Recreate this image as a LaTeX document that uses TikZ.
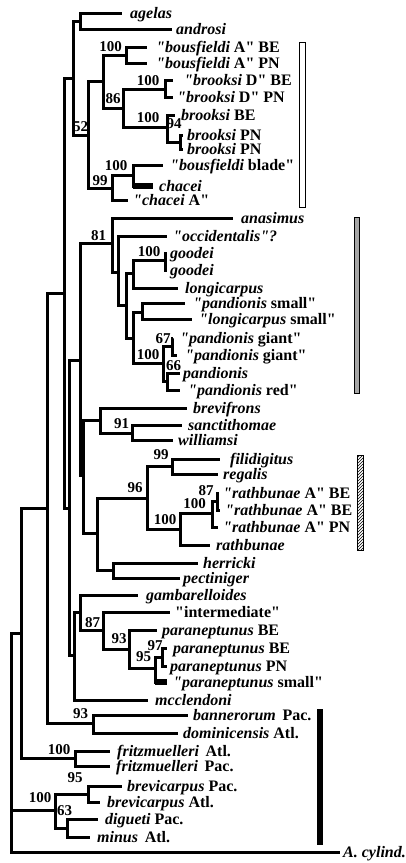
\documentclass[tikz,border=0pt]{standalone}
\usepackage{fontspec}
\setmainfont{Liberation Serif}[Ligatures=TeXOff]
\usetikzlibrary{positioning, patterns}

\begin{document}
\begin{tikzpicture}[x=1pt, y=-1pt,
    branch/.style={line width=3pt},
    fatbranch/.style={line width=6pt},
    taxon/.style={anchor=west, inner sep=0pt, text height=11pt, text depth=1pt, font=\fontsize{16}{18}\selectfont\bfseries},
    boot/.style={inner sep=0pt, font=\fontsize{15}{17}\selectfont\bfseries},
    rangebar/.style={draw=black, line width=1pt},
]
  \useasboundingbox (0,0) rectangle (405,863);

  % internal nodes (upper clade)
  \coordinate (nAG) at (80,21);
  \coordinate (n73) at (73,78);
  \coordinate (n52) at (88,135);
  \coordinate (n103) at (103,81);
  \coordinate (nBA) at (126,55);
  \coordinate (n86) at (123,108);
  \coordinate (nBD) at (165,89);
  \coordinate (nBR) at (167,127);
  \coordinate (n94) at (180,142);
  \coordinate (n99) at (112,188);
  \coordinate (nBB) at (133,175);
  % internal nodes (backbone)
  \coordinate (root) at (11,742);
  \coordinate (n21) at (21,633);
  \coordinate (n47) at (47,508);
  \coordinate (n64) at (64,293);
  \coordinate (n69) at (69,508);
  % internal nodes (middle clade)
  \coordinate (nA80) at (80,360);
  \coordinate (n81) at (112,243);
  \coordinate (n118) at (118,272);
  \coordinate (n126) at (126,305);
  \coordinate (n133a) at (133,273);
  \coordinate (n133b) at (133,338);
  \coordinate (nGO) at (165,260);
  \coordinate (nPS) at (142,312);
  \coordinate (nPG) at (163,363);
  \coordinate (n67) at (172,346);
  \coordinate (n66) at (167,381);
  \coordinate (nB83) at (83,475);
  \coordinate (nBF) at (100,420);
  \coordinate (n91) at (132,433);
  \coordinate (n97) at (97,533);
  \coordinate (n96) at (147,498);
  \coordinate (n99b) at (172,466);
  \coordinate (n100r) at (180,529);
  \coordinate (n100ra) at (212,513);
  \coordinate (n87r) at (217,501);
  \coordinate (nHP) at (113,570);
  \coordinate (n74) at (74,655);
  \coordinate (nGA) at (80,612);
  \coordinate (n87) at (103,630);
  \coordinate (n93) at (129,649);
  \coordinate (n95) at (155,668);
  \coordinate (n97p) at (162,657);
  % internal nodes (lower clade)
  \coordinate (nBN) at (93,723);
  \coordinate (nFR) at (75,758);
  \coordinate (n55) at (55,810);
  \coordinate (n95b) at (88,794);
  \coordinate (n63) at (67,828);

  % branch tips
  \coordinate (t-agelas) at (122,13);
  \coordinate (t-androsi) at (172,29);
  \coordinate (t-bousBE) at (147,47);
  \coordinate (t-bousPN) at (147,63);
  \coordinate (t-brDBE) at (173,80);
  \coordinate (t-brDPN) at (173,97);
  \coordinate (t-brBE) at (175,115);
  \coordinate (t-brPN1) at (183,135);
  \coordinate (t-brPN2) at (183,149);
  \coordinate (t-blade) at (163,165);
  \coordinate (t-chacei) at (153,186);
  \coordinate (t-chaceiA) at (128,200);
  \coordinate (t-anas) at (233,218);
  \coordinate (t-occ) at (167,236);
  \coordinate (t-good1) at (167,253);
  \coordinate (t-good2) at (167,270);
  \coordinate (t-longi) at (178,288);
  \coordinate (t-pansm) at (185,303);
  \coordinate (t-longsm) at (192,319);
  \coordinate (t-pg1) at (173,338);
  \coordinate (t-pg2) at (177,355);
  \coordinate (t-pan) at (180,373);
  \coordinate (t-panred) at (180,390);
  \coordinate (t-brevif) at (187,408);
  \coordinate (t-sancti) at (182,425);
  \coordinate (t-will) at (173,440);
  \coordinate (t-fili) at (220,459);
  \coordinate (t-reg) at (218,474);
  \coordinate (t-rathBE1) at (219,493);
  \coordinate (t-rathBE2) at (220,510);
  \coordinate (t-rathPN) at (218,527);
  \coordinate (t-rath) at (210,545);
  \coordinate (t-herr) at (198,563);
  \coordinate (t-pect) at (180,578);
  \coordinate (t-gamb) at (138,595);
  \coordinate (t-inter) at (170,612);
  \coordinate (t-parBE) at (157,630);
  \coordinate (t-parBE2) at (167,648);
  \coordinate (t-parPN) at (167,666);
  \coordinate (t-parsm) at (167,682);
  \coordinate (t-mccl) at (148,700);
  \coordinate (t-bann) at (188,715);
  \coordinate (t-domi) at (178,733);
  \coordinate (t-fritA) at (110,751);
  \coordinate (t-fritP) at (110,766);
  \coordinate (t-brevP) at (122,786);
  \coordinate (t-brevA) at (100,802);
  \coordinate (t-dig) at (98,819);
  \coordinate (t-min) at (90,837);
  \coordinate (t-cyl) at (340,852);

  % branches
  \draw[branch] (root) |- (n21) (root) |- (n55) (root) |- (t-cyl);
  \draw[branch] (n21) |- (n47) (n21) |- (nFR);
  \draw[branch] (n47) |- (n64) (n47) |- (nBN);
  \draw[branch] (n64) |- (n73) (n64) |- (n69);
  \draw[branch] (n73) |- (nAG) (n73) |- (n52);
  \draw[branch] (nAG) |- (t-agelas) (nAG) |- (t-androsi);
  \draw[branch] (n52) |- (n103) (n52) |- (n99);
  \draw[branch] (n103) |- (nBA) (n103) |- (n86);
  \draw[branch] (nBA) |- (t-bousBE) (nBA) |- (t-bousPN);
  \draw[branch] (n86) |- (nBD) (n86) |- (nBR);
  \draw[branch] (nBD) |- (t-brDBE) (nBD) |- (t-brDPN);
  \draw[branch] (nBR) |- (t-brBE) (nBR) |- (n94);
  \draw[branch] (n94) |- (t-brPN1) (n94) |- (t-brPN2);
  \draw[branch] (n99) |- (nBB) (n99) |- (t-chaceiA);
  \draw[branch] (nBB) |- (t-blade) (nBB) |- (t-chacei);
  \draw[fatbranch] (nBB |- t-chacei) -- (t-chacei);

  \draw[branch] (n69) |- (nA80) (n69) |- (n74);
  \draw[branch] (nA80) |- (n81) (nA80) |- (nB83);
  \draw[branch] (n81) |- (t-anas) (n81) |- (n118);
  \draw[branch] (n118) |- (t-occ) (n118) |- (n126);
  \draw[branch] (n126) |- (n133a) (n126) |- (n133b);
  \draw[branch] (n133a) |- (nGO) (n133a) |- (t-longi);
  \draw[branch] (nGO) |- (t-good1) (nGO) |- (t-good2);
  \draw[branch] (n133b) |- (nPS) (n133b) |- (nPG);
  \draw[branch] (nPS) |- (t-pansm) (nPS) |- (t-longsm);
  \draw[branch] (nPG) |- (n67) (nPG) |- (n66);
  \draw[branch] (n67) |- (t-pg1) (n67) |- (t-pg2);
  \draw[branch] (n66) |- (t-pan) (n66) |- (t-panred);
  \draw[branch] (nB83) |- (nBF) (nB83) |- (n97);
  \draw[branch] (nBF) |- (t-brevif) (nBF) |- (n91);
  \draw[branch] (n91) |- (t-sancti) (n91) |- (t-will);
  \draw[branch] (n97) |- (n96) (n97) |- (nHP);
  \draw[branch] (n96) |- (n99b) (n96) |- (n100r);
  \draw[branch] (n99b) |- (t-fili) (n99b) |- (t-reg);
  \draw[branch] (n100r) |- (n100ra) (n100r) |- (t-rath);
  \draw[branch] (n100ra) |- (n87r) (n100ra) |- (t-rathPN);
  \draw[branch] (n87r) |- (t-rathBE1) (n87r) |- (t-rathBE2);
  \draw[branch] (nHP) |- (t-herr) (nHP) |- (t-pect);
  \draw[branch] (n74) |- (nGA) (n74) |- (t-mccl);
  \draw[branch] (nGA) |- (t-gamb) (nGA) |- (n87);
  \draw[branch] (n87) |- (t-inter) (n87) |- (n93);
  \draw[branch] (n93) |- (t-parBE) (n93) |- (n95);
  \draw[branch] (n95) |- (n97p) (n95) |- (t-parsm);
  \draw[fatbranch] (n95 |- t-parsm) -- (t-parsm);
  \draw[branch] (n97p) |- (t-parBE2) (n97p) |- (t-parPN);

  \draw[branch] (nBN) |- (t-bann) (nBN) |- (t-domi);
  \draw[branch] (nFR) |- (t-fritA) (nFR) |- (t-fritP);
  \draw[branch] (n55) |- (n95b) (n55) |- (n63);
  \draw[branch] (n95b) |- (t-brevP) (n95b) |- (t-brevA);
  \draw[branch] (n63) |- (t-dig) (n63) |- (t-min);

  % taxa
  \node[taxon, right=8pt of t-agelas] (agelas) {\textit{agelas}};
  \node[taxon, right=4pt of t-androsi] (androsi) {\textit{androsi}};
  \node[taxon, right=9pt of t-bousBE] (bousBE) {\textit{"bousfieldi} A" BE};
  \node[taxon, right=9pt of t-bousPN] (bousPN) {\textit{"bousfieldi} A" PN};
  \node[taxon, right=11pt of t-brDBE] (brDBE) {\textit{"brooksi} D" BE};
  \node[taxon, right=4pt of t-brDPN] (brDPN) {\textit{"brooksi} D" PN};
  \node[taxon, right=6pt of t-brBE] (brBE) {\textit{brooksi} BE};
  \node[taxon, right=4pt of t-brPN1] (brPN1) {\textit{brooksi} PN};
  \node[taxon, right=4pt of t-brPN2] (brPN2) {\textit{brooksi} PN};
  \node[taxon, right=7pt of t-blade] (blade) {\textit{"bousfieldi} blade"};
  \node[taxon, right=6pt of t-chacei] (chacei) {\textit{chacei}};
  \node[taxon, right=5pt of t-chaceiA] (chaceiA) {\textit{"chacei} A"};
  \node[taxon, right=8pt of t-anas] (anas) {\textit{anasimus}};
  \node[taxon, right=6pt of t-occ] (occ) {\textit{"occidentalis"?}};
  \node[taxon, right=3pt of t-good1] (good1) {\textit{goodei}};
  \node[taxon, right=3pt of t-good2] (good2) {\textit{goodei}};
  \node[taxon, right=7pt of t-longi] (longi) {\textit{longicarpus}};
  \node[taxon, right=8pt of t-pansm] (pansm) {\textit{"pandionis} small"};
  \node[taxon, right=7pt of t-longsm] (longsm) {\textit{"longicarpus} small"};
  \node[taxon, right=7pt of t-pg1] (pg1) {\textit{"pandionis} giant"};
  \node[taxon, right=8pt of t-pg2] (pg2) {\textit{"pandionis} giant"};
  \node[taxon, right=3pt of t-pan] (pan) {\textit{pandionis}};
  \node[taxon, right=8pt of t-panred] (panred) {\textit{"pandionis} red"};
  \node[taxon, right=6pt of t-brevif] (brevif) {\textit{brevifrons}};
  \node[taxon, right=6pt of t-sancti] (sancti) {\textit{sanctithomae}};
  \node[taxon, right=5pt of t-will] (will) {\textit{williamsi}};
  \node[taxon, right=10pt of t-fili] (fili) {\textit{filidigitus}};
  \node[taxon, right=5pt of t-reg] (reg) {\textit{regalis}};
  \node[taxon, right=4pt of t-rathBE1] (rathBE1) {\textit{"rathbunae} A" BE};
  \node[taxon, right=5pt of t-rathBE2] (rathBE2) {\textit{"rathbunae} A" BE};
  \node[taxon, right=5pt of t-rathPN] (rathPN) {\textit{"rathbunae} A" PN};
  \node[taxon, right=6pt of t-rath] (rath) {\textit{rathbunae}};
  \node[taxon, right=5pt of t-herr] (herr) {\textit{herricki}};
  \node[taxon, right=3pt of t-pect] (pect) {\textit{pectiniger}};
  \node[taxon, right=8pt of t-gamb] (gamb) {\textit{gambarelloides}};
  \node[taxon, right=5pt of t-inter] (inter) {"intermediate"};
  \node[taxon, right=5pt of t-parBE] (parBE) {\textit{paraneptunus} BE};
  \node[taxon, right=6pt of t-parBE2] (parBE2) {\textit{paraneptunus} BE};
  \node[taxon, right=3pt of t-parPN] (parPN) {\textit{paraneptunus} PN};
  \node[taxon, right=6pt of t-parsm] (parsm) {\textit{"paraneptunus} small"};
  \node[taxon, right=7pt of t-mccl] (mccl) {\textit{mcclendoni}};
  \node[taxon, right=5pt of t-bann] (bann) {\textit{bannerorum}\, Pac.};
  \node[taxon, right=5pt of t-domi] (domi) {\textit{dominicensis} Atl.};
  \node[taxon, right=7pt of t-fritA] (fritA) {\textit{fritzmuelleri}\, Atl.};
  \node[taxon, right=6pt of t-fritP] (fritP) {\textit{fritzmuelleri}\, Pac.};
  \node[taxon, right=5pt of t-brevP] (brevP) {\textit{brevicarpus} Pac.};
  \node[taxon, right=7pt of t-brevA] (brevA) {\textit{brevicarpus} Atl.};
  \node[taxon, right=7pt of t-dig] (dig) {\textit{digueti} Pac.};
  \node[taxon, right=7pt of t-min] (min) {\textit{minus}\, Atl.};
  \node[taxon, right=3pt of t-cyl] (cyl) {\textit{A. cylind.}};

  % bootstrap values
  \node[boot] (b52) at (80.5,127) {52};
  \node[boot] (bBA) at (110.5,46.5) {100};
  \node[boot] (b86) at (113,99) {86};
  \node[boot] (bBD) at (148,80.5) {100};
  \node[boot] (bBR) at (148,118) {100};
  \node[boot] (b94) at (174,124) {94};
  \node[boot] (b99) at (100,180.5) {99};
  \node[boot] (bBB) at (116,165.5) {100};
  \node[boot] (b81) at (98.5,235.5) {81};
  \node[boot] (bGO) at (149,252) {100};
  \node[boot] (b67) at (163,339) {67};
  \node[boot] (bPG) at (148,355) {100};
  \node[boot] (b66) at (173.5,366) {66};
  \node[boot] (b91) at (121.5,424) {91};
  \node[boot] (b99b) at (161,455) {99};
  \node[boot] (b96) at (135,487.5) {96};
  \node[boot] (b87r) at (206,491) {87};
  \node[boot] (b100ra) at (194.5,504) {100};
  \node[boot] (b100r) at (165,520) {100};
  \node[boot] (b87) at (92.5,622.5) {87};
  \node[boot] (b93) at (119,639) {93};
  \node[boot] (b97) at (155,646) {97};
  \node[boot] (b95) at (143.5,657) {95};
  \node[boot] (bBN) at (80.5,714) {93};
  \node[boot] (bFR) at (59,750) {100};
  \node[boot] (b95b) at (75,778) {95};
  \node[boot] (b55) at (40,798) {100};
  \node[boot] (b63) at (64.5,811) {63};

  % range bars (right)
  \draw[rangebar, fill=white] (299,42) rectangle (305,207);
  \draw[rangebar, fill=gray!70] (354,217) rectangle (359,393);
  \draw[rangebar, pattern=north east lines] (357,455) rectangle (363,550);
  \fill[black] (317,709) rectangle (323,845);
\end{tikzpicture}
\end{document}
